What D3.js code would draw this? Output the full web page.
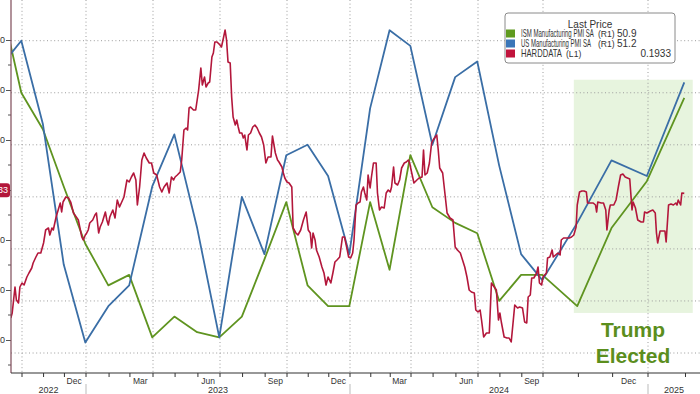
<!DOCTYPE html>
<html>
<head>
<meta charset="utf-8">
<script src="https://cdn.jsdelivr.net/npm/d3@7"></script>
<style>
  body { margin: 0; background: #fff; }
  svg { display: block; font-family: "Liberation Sans", Arial, sans-serif; }
</style>
</head>
<body>
<svg id="chart" width="700" height="394"></svg>
<script>
// monthly PMI readings (plotted at month end)
const months = ["2022-08","2022-09","2022-10","2022-11","2022-12",
  "2023-01","2023-02","2023-03","2023-04","2023-05","2023-06","2023-07","2023-08","2023-09","2023-10","2023-11","2023-12",
  "2024-01","2024-02","2024-03","2024-04","2024-05","2024-06","2024-07","2024-08","2024-09","2024-10","2024-11","2024-12",
  "2025-01"];
const ismValues = [52.8, 51.0, 50.3, 49.2, 48.1,
  47.3, 47.5, 46.3, 46.7, 46.4, 46.3, 46.7, 47.8, 48.9, 47.3, 46.9, 46.9,
  48.9, 47.6, 49.8, 48.8, 48.5, 48.3, 47.0, 47.5, 47.5, 46.9, 48.4, 49.3,
  50.9];
const usValues = [51.5, 52.0, 50.4, 47.7, 46.2,
  46.9, 47.3, 49.2, 50.2, 48.4, 46.3, 49.0, 47.9, 49.8, 50.0, 49.4, 47.9,
  50.7, 52.2, 51.9, 50.0, 51.3, 51.6, 49.6, 47.9, 47.4, 48.5, 49.7, 49.4,
  51.2];

// HARDDATA: [days after hardStart, value]
const hardStart = "2022-09-15";
const hardData = [
  [0,-0.056],[2,-0.046],[6,0.006],[8,-0.02],[11,-0.026],[13,0.006],[16,0.014],[19,0.01],[23,0.026],[26,0.034],
  [30,0.044],[32,0.054],[36,0.066],[39,0.074],[43,0.074],[47,0.094],[50,0.12],[54,0.124],[56,0.11],[59,0.124],
  [61,0.12],[65,0.146],[68,0.16],[71,0.174],[73,0.156],[75,0.176],[79,0.186],[83,0.184],[86,0.176],[90,0.154],
  [94,0.146],[97,0.14],[99,0.126],[102,0.106],[104,0.1],[107,0.11],[109,0.114],[111,0.12],[113,0.134],[117,0.14],
  [120,0.15],[122,0.154],[125,0.114],[127,0.126],[130,0.136],[134,0.156],[136,0.14],[138,0.13],[140,0.146],[144,0.16],
  [147,0.144],[150,0.18],[153,0.166],[156,0.176],[159,0.186],[163,0.22],[166,0.216],[169,0.226],[172,0.234],[175,0.22],
  [177,0.17],[180,0.206],[183,0.26],[186,0.274],[189,0.264],[193,0.254],[196,0.254],[199,0.234],[203,0.23],[207,0.206],
  [210,0.196],[213,0.206],[217,0.214],[220,0.194],[223,0.226],[226,0.22],[228,0.226],[231,0.23],[235,0.236],[237,0.26],
  [240,0.32],[243,0.324],[245,0.32],[247,0.364],[249,0.366],[253,0.36],[256,0.36],[260,0.4],[263,0.444],[265,0.41],
  [268,0.426],[270,0.406],[273,0.414],[275,0.416],[278,0.466],[280,0.474],[282,0.496],[285,0.496],[289,0.49],[291,0.486],
  [294,0.506],[296,0.52],[298,0.5],[300,0.456],[303,0.454],[305,0.386],[307,0.346],[310,0.33],[312,0.34],[314,0.326],
  [316,0.314],[319,0.314],[321,0.304],[323,0.31],[326,0.28],[328,0.31],[331,0.314],[334,0.326],[337,0.33],[340,0.324],
  [343,0.314],[346,0.306],[349,0.29],[352,0.254],[355,0.266],[359,0.266],[361,0.308],[365,0.274],[368,0.26],[370,0.256],
  [374,0.246],[376,0.234],[378,0.224],[381,0.216],[384,0.214],[388,0.206],[390,0.124],[394,0.114],[397,0.11],[401,0.12],
  [405,0.14],[409,0.156],[412,0.12],[415,0.114],[417,0.084],[419,0.114],[422,0.1],[424,0.08],[428,0.066],[432,0.046],
  [435,0.034],[438,0.01],[441,0.026],[445,0.014],[448,0.034],[451,0.056],[454,0.06],[458,0.066],[462,0.106],[465,0.106],
  [469,0.08],[471,0.066],[474,0.064],[477,0.074],[479,0.1],[482,0.17],[485,0.174],[488,0.176],[490,0.196],[493,0.206],
  [495,0.194],[498,0.18],[500,0.23],[503,0.204],[505,0.226],[508,0.254],[512,0.254],[514,0.194],[517,0.16],[520,0.166],
  [524,0.164],[527,0.194],[530,0.2],[533,0.196],[535,0.206],[538,0.246],[540,0.214],[544,0.21],[547,0.22],[550,0.244],
  [554,0.254],[557,0.256],[560,0.26],[562,0.254],[565,0.234],[568,0.214],[572,0.22],[575,0.224],[579,0.226],[581,0.28],
  [583,0.23],[586,0.234],[589,0.254],[592,0.294],[594,0.3],[597,0.306],[599,0.31],[601,0.28],[603,0.244],[607,0.234],
  [610,0.194],[613,0.154],[617,0.144],[621,0.14],[624,0.086],[627,0.08],[631,0.074],[634,0.06],[637,0.046],[640,0.026],
  [643,0.0],[646,-0.004],[650,-0.006],[652,-0.04],[655,-0.044],[658,-0.04],[660,-0.06],[663,-0.094],[667,-0.086],[671,-0.086],
  [674,0.014],[678,0.006],[681,0.0],[684,-0.06],[686,-0.046],[688,-0.064],[692,-0.094],[696,-0.096],[699,-0.096],[702,-0.104],
  [705,-0.06],[707,-0.03],[711,-0.036],[714,-0.034],[718,-0.036],[721,-0.064],[724,-0.066],[726,-0.014],[729,-0.01],[731,0.024],
  [734,0.024],[738,0.034],[740,0.046],[742,0.014],[745,0.01],[747,0.026],[750,0.034],[751,0.064],[753,0.066],[755,0.08],
  [756,0.066],[758,0.07],[760,0.074],[762,0.07],[763,0.1],[765,0.104],[768,0.104],[770,0.104],[772,0.106],[774,0.11],
  [776,0.126],[777,0.17],[779,0.196],[781,0.198],[783,0.198],[785,0.196],[786,0.174],[788,0.174],[791,0.174],[793,0.17],
  [794,0.156],[795,0.176],[798,0.174],[800,0.174],[802,0.16],[803,0.12],[805,0.16],[806,0.17],[809,0.17],[811,0.18],
  [813,0.206],[815,0.23],[817,0.232],[819,0.226],[821,0.224],[823,0.222],[825,0.16],[826,0.176],[828,0.164],[830,0.14],
  [833,0.136],[835,0.136],[836,0.156],[838,0.154],[841,0.158],[843,0.16],[845,0.154],[846,0.114],[847,0.094],[849,0.118],
  [851,0.118],[853,0.118],[854,0.096],[856,0.17],[858,0.172],[860,0.17],[862,0.174],[863,0.17],[864,0.18],[866,0.17],
  [867,0.194],[869,0.1933]
];

const leftTicks = [-0.1, 0, 0.1, 0.2, 0.3, 0.4, 0.5];
const rightTicks = [46, 47, 48, 49, 50, 51, 52];
const monthLabels = ["2022-12","2023-03","2023-06","2023-09","2023-12","2024-03","2024-06","2024-09","2024-12"];
const yearLabels = ["2022", "2023", "2024", "2025"];
const legendItems = [
  { name: "ISM Manufacturing PMI SA", axis: "(R1)", last: "50.9", color: "#5f9a1f", w: 73 },
  { name: "US Manufacturing PMI SA", axis: "(R1)", last: "51.2", color: "#3a76b8", w: 70 },
  { name: "HARDDATA", axis: "(L1)", last: "0.1933", color: "#c0143c", w: 41 }
];
const shadeDates = ["2024-10-28", "2025-02-07"];
const shadeRange = [46.77, 51.25];

const parseDay = d3.timeParse("%Y-%m-%d");
const parseMonth = d3.timeParse("%Y-%m");
const monthEnd = s => d3.timeDay.offset(d3.timeMonth.offset(parseMonth(s), 1), -1);

const svg = d3.select("#chart");
const plotLeft = 11, plotRight = 700, plotBottom = 373;

// the time axis of the original is not uniform, so use a piecewise scale
const x = d3.scaleTime()
  .domain(["2022-09-01","2022-10-01","2023-01-01","2023-04-01","2023-07-01","2023-10-01",
           "2024-01-01","2024-04-01","2024-07-01","2024-10-01","2025-01-01","2025-02-13"].map(parseDay))
  .range([1, 22, 86, 153, 220, 287, 350, 411, 478, 543, 648, 700]);
const yL = d3.scaleLinear().domain([-0.1, 0.5]).range([340, 40]);
const yR = d3.scaleLinear().domain([46, 52]).range([353, 40.7]);

svg.append("defs").append("clipPath").attr("id", "plot")
  .append("rect").attr("x", plotLeft).attr("y", 0)
  .attr("width", plotRight - plotLeft).attr("height", plotBottom);

// shaded election window
svg.append("rect")
  .attr("x", x(parseDay(shadeDates[0])))
  .attr("width", x(parseDay(shadeDates[1])) - x(parseDay(shadeDates[0])))
  .attr("y", yR(shadeRange[1]))
  .attr("height", yR(shadeRange[0]) - yR(shadeRange[1]))
  .attr("fill", "#e7f4de");

// grid
const grid = svg.append("g").attr("stroke", "#9c9c9c").attr("stroke-dasharray", "1,2.6").attr("stroke-width", 1);
grid.selectAll("line.h").data(rightTicks).join("line")
  .attr("x1", plotLeft).attr("x2", plotRight)
  .attr("y1", d => yR(d)).attr("y2", d => yR(d));
const quarters = d3.timeMonth.every(3).range(parseDay("2022-10-01"), parseDay("2025-02-01"));
grid.selectAll("line.v").data(quarters).join("line")
  .attr("x1", d => x(d)).attr("x2", d => x(d))
  .attr("y1", 0).attr("y2", plotBottom);

// series
const plot = svg.append("g").attr("clip-path", "url(#plot)");
const monthly = vals => months.map((m, i) => [monthEnd(m), vals[i]]);
const lineR = d3.line().x(d => x(d[0])).y(d => yR(d[1]));
plot.append("path").datum(monthly(ismValues)).attr("d", lineR)
  .attr("fill", "none").attr("stroke", "#5f9420").attr("stroke-width", 1.8).attr("stroke-linejoin", "round");
plot.append("path").datum(monthly(usValues)).attr("d", lineR)
  .attr("fill", "none").attr("stroke", "#3a6ea6").attr("stroke-width", 1.8).attr("stroke-linejoin", "round");
const base = parseDay(hardStart);
plot.append("path").datum(hardData)
  .attr("d", d3.line().x(d => x(d3.timeDay.offset(base, d[0]))).y(d => yL(d[1])))
  .attr("fill", "none").attr("stroke", "#b3173b").attr("stroke-width", 1.6).attr("stroke-linejoin", "round");

// left axis (L1), labels mostly cut off by the frame; 0.20 sits under the last-price badge
const leftAxis = svg.append("g").attr("transform", `translate(${plotLeft},0)`)
  .call(d3.axisLeft(yL).tickValues(leftTicks).tickSize(5).tickPadding(1)
    .tickFormat(d => d === 0.2 ? "" : d3.format(".2f")(d)));
leftAxis.select(".domain").remove();
leftAxis.selectAll("line").attr("stroke", "#555");
leftAxis.selectAll("text").attr("font-size", 9).attr("fill", "#333");
const minor = d3.range(-0.15, 0.55, 0.1);
svg.append("g").selectAll("line").data(minor).join("line")
  .attr("x1", plotLeft - 3).attr("x2", plotLeft)
  .attr("y1", d => yL(d)).attr("y2", d => yL(d)).attr("stroke", "#555");
svg.append("line").attr("x1", plotLeft).attr("x2", plotLeft).attr("y1", 0).attr("y2", plotBottom)
  .attr("stroke", "#7d4a58").attr("stroke-width", 1.2);

// last price badge
const badgeY = yL(hardData[hardData.length - 1][1]) - 3;
svg.append("rect").attr("x", -20).attr("y", badgeY - 7).attr("width", 30).attr("height", 14)
  .attr("rx", 3).attr("fill", "#b3173b");
svg.append("text").attr("x", 8).attr("y", badgeY + 3).attr("text-anchor", "end")
  .attr("font-size", 9).attr("fill", "#fff").text("0.1933");

// bottom axis
svg.append("line").attr("x1", plotLeft).attr("x2", plotRight).attr("y1", plotBottom).attr("y2", plotBottom)
  .attr("stroke", "#333").attr("stroke-width", 1.2);
const monthTicks = d3.timeMonth.range(parseDay("2022-10-01"), parseDay("2025-02-10"));
svg.append("g").selectAll("line").data(monthTicks).join("line")
  .attr("x1", d => x(d)).attr("x2", d => x(d))
  .attr("y1", plotBottom).attr("y2", plotBottom + 4).attr("stroke", "#333");
// month names sit in the middle of their month
svg.append("g").selectAll("text").data(monthLabels.map(m => d3.timeDay.offset(parseMonth(m), 14))).join("text")
  .attr("x", d => x(d)).attr("y", 384).attr("text-anchor", "middle")
  .attr("font-size", 8.5).attr("fill", "#333").text(d3.timeFormat("%b"));

const domainStart = x.invert(plotLeft), domainEnd = x.invert(plotRight);
const years = yearLabels.map(y => {
  const s = d3.max([parseDay(y + "-01-01"), domainStart]);
  const e = d3.min([parseDay((+y + 1) + "-01-01"), domainEnd]);
  return { label: y, s, e };
});
svg.append("g").selectAll("text").data(years).join("text")
  .attr("x", d => (x(d.s) + x(d.e)) / 2).attr("y", 393).attr("text-anchor", "middle")
  .attr("font-size", 9).attr("fill", "#333").text(d => d.label);
svg.append("g").selectAll("line").data(years.slice(1)).join("line")
  .attr("x1", d => x(d.s)).attr("x2", d => x(d.s))
  .attr("y1", 384).attr("y2", 394).attr("stroke", "#bbb");

// legend
const lg = svg.append("g").attr("font-size", 10).attr("fill", "#333");
lg.append("rect").attr("x", 505).attr("y", 13).attr("width", 170).attr("height", 50)
  .attr("rx", 3).attr("fill", "#fff").attr("stroke", "#8a8a8a");
lg.append("text").attr("x", 590).attr("y", 27.5).attr("text-anchor", "middle").attr("fill", "#333").text("Last Price");
const rows = lg.selectAll("g.row").data(legendItems).join("g")
  .attr("transform", (d, i) => `translate(0,${33.5 + i * 10})`);
rows.append("rect").attr("x", 506).attr("y", -4).attr("width", 9).attr("height", 8).attr("fill", d => d.color);
// names are drawn narrow, like the condensed face of the original
rows.append("text").attr("fill", "#333").text(d => d.name)
  .each(function (d) {
    const sx = d.w / this.getComputedTextLength();
    d3.select(this).attr("transform", `translate(521,3.6) scale(${sx},1)`);
  });
rows.append("text").attr("x", d => d.axis === "(L1)" ? 566 : 598).attr("y", 3.6)
  .attr("font-size", 8.6).attr("fill", "#333").text(d => d.axis);
rows.append("text").attr("x", d => d.axis === "(L1)" ? 671 : 617).attr("y", 3.6)
  .attr("text-anchor", d => d.axis === "(L1)" ? "end" : "start").attr("fill", "#333").text(d => d.last);

// annotation
const note = svg.append("g").attr("font-size", 21).attr("font-weight", "bold")
  .attr("fill", "#5b8e1d").attr("text-anchor", "middle");
note.append("text").attr("x", 633).attr("y", 337).text("Trump");
note.append("text").attr("x", 633).attr("y", 363).text("Elected");
</script>
</body>
</html>
